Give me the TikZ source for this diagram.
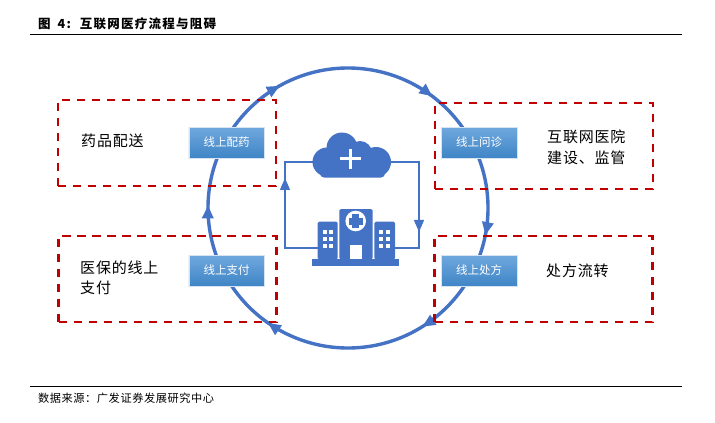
\documentclass[tikz,border=0pt]{standalone}
\usepackage{fontspec}
\setmainfont{Noto Sans CJK SC}
\usetikzlibrary{arrows.meta,decorations.markings}
\definecolor{iconblue}{HTML}{4472C4}
\definecolor{framered}{HTML}{C00000}
\definecolor{boxtop}{HTML}{70A8DE}
\definecolor{boxbot}{HTML}{3F85C6}
\definecolor{boxedge}{HTML}{D5E3F2}
\tikzset{
  rulebar/.style={line width=1pt},
  redframe/.style={draw=framered, line width=2.1pt, dash pattern=on 8.3pt off 6.7pt, minimum width=218, minimum height=86, inner sep=0pt},
  bluebox/.style={top color=boxtop, bottom color=boxbot, draw=boxedge, line width=0.5pt, text=white, minimum width=75.5, minimum height=31, inner sep=0pt, font=\fontsize{11.5}{14}\selectfont},
  bodytext/.style={anchor=west, align=left, inner sep=0pt, font=\fontsize{15}{20.5}\selectfont\addfontfeature{LetterSpace=5.5}},
  ringline/.style={draw=iconblue, line width=3.4pt, postaction=decorate, decoration={markings,
    mark=at position 0.031 with {\arrow{Triangle[length=13pt,width=11pt]}},
    mark=at position 0.161 with {\arrow{Triangle[length=13pt,width=11pt]}},
    mark=at position 0.347 with {\arrow{Triangle[length=13pt,width=11pt]}},
    mark=at position 0.503 with {\arrow{Triangle[length=13pt,width=11pt]}},
    mark=at position 0.669 with {\arrow{Triangle[length=13pt,width=11pt]}},
    mark=at position 0.853 with {\arrow{Triangle[length=13pt,width=11pt]}}}},
  flowline/.style={draw=iconblue, line width=1.2pt, postaction=decorate, decoration={markings,
    mark=at position #1 with {\arrow{Triangle[length=12pt,width=10pt]}}}}
}
\begin{document}
\begin{tikzpicture}[x=1pt,y=-1pt]
\useasboundingbox (0,0) rectangle (715,423);
\node[anchor=west, inner sep=0pt, font=\fontsize{12.5}{15}\selectfont\bfseries\addfontfeature{LetterSpace=10}] (title) at (38,24) {图\hspace{7pt}4:\hspace{9pt}互联网医疗流程与阻碍};
\coordinate (toprulel) at (30,34);
\coordinate (topruler) at (682,34);
\draw[rulebar] (toprulel) -- (topruler);
\coordinate (ringc) at (348,208);
\draw[ringline] (ringc) circle (140);

\node[redframe] (ypframe) at (167,143) {};
\node[redframe] (ybframe) at (167.5,279) {};
\node[redframe] (wzframe) at (544,146) {};
\node[redframe] (cfframe) at (543.5,279) {};

\node[bluebox] (ypbox) at (226.5,142.5) {线上配药};
\node[bluebox] (ybbox) at (226.5,270.5) {线上支付};
\node[bluebox] (wzbox) at (479,142.5) {线上问诊};
\node[bluebox] (cfbox) at (479,270.5) {线上处方};

\node[bodytext] (yptext) at (81,141) {药品配送};
\node[bodytext] (ybtext) at (80,278) {医保的线上\\支付};
\node[bodytext] (wztext) at (547,147.5) {互联网医院\\建设、监管};
\node[bodytext] (cftext) at (546,271) {处方流转};

% cloud
\fill[iconblue] (342,148) circle (15.5);
\fill[iconblue] (360,153) circle (12);
\fill[iconblue] (327,162) circle (14.5);
\fill[iconblue] (376,162) circle (15);
\fill[iconblue, rounded corners=4pt] (320,160) rectangle (385,177.5);
\draw[white, line width=2.6pt] (340,158.5) -- (360.5,158.5);
\draw[white, line width=2.6pt] (350.2,149) -- (350.2,168.5);
\coordinate (cloudl) at (314,162);
\coordinate (cloudr) at (391,162);

% hospital
\fill[iconblue, rounded corners=1.5pt] (339.3,209) rectangle (372.7,259.5);
\fill[iconblue, rounded corners=1.5pt] (317.7,221.7) rectangle (337.7,259.5);
\fill[iconblue, rounded corners=1.5pt] (374.3,221.7) rectangle (395,259.5);
\fill[iconblue] (312.3,259.3) rectangle (399.3,266);
\foreach \wx in {324.5,330.8,381,388.3}
  \foreach \wy in {231.7,238.7,246.3}
    \fill[white] (\wx-2,\wy-2) rectangle (\wx+2,\wy+2);
\fill[white] (350,245) rectangle (362.3,259.3);
\fill[white] (355.7,221) circle (10.3);
\fill[iconblue] (352.2,214) rectangle (359.2,228);
\fill[iconblue] (348.7,217.5) rectangle (362.7,224.5);
\coordinate (hospl) at (318,248);
\coordinate (hospr) at (394,248);

\draw[flowline=0.696] (hospl) -| (285,162) -- (cloudl);
\draw[flowline=0.705] (cloudr) -| (419,248) -- (hospr);

\coordinate (botrulel) at (30,386);
\coordinate (botruler) at (682,386);
\node[anchor=west, inner sep=0pt, font=\fontsize{11.2}{14}\selectfont\addfontfeature{LetterSpace=5}] (source) at (38,398) {数据来源\symbol{"FF1A}广发证券发展研究中心};
\draw[rulebar] (botrulel) -- (botruler);
\end{tikzpicture}
\end{document}
